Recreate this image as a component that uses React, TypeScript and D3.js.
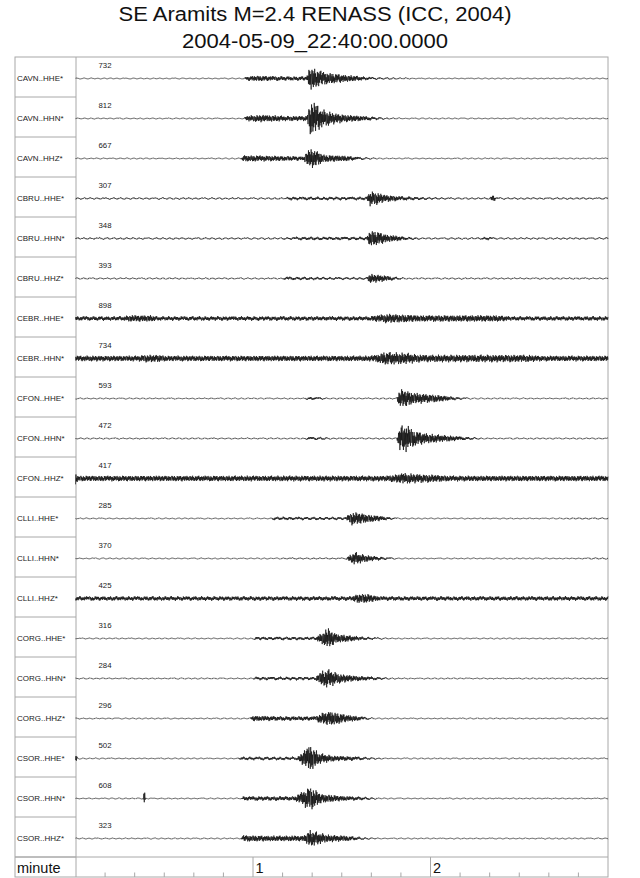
import React from "react";
import * as d3 from "d3";

const TITLE = "SE Aramits M=2.4 RENASS (ICC, 2004)";
const SUBTITLE = "2004-05-09_22:40:00.0000";

const CHANNELS = [
  "CAVN..HHE*", "CAVN..HHN*", "CAVN..HHZ*",
  "CBRU..HHE*", "CBRU..HHN*", "CBRU..HHZ*",
  "CEBR..HHE*", "CEBR..HHN*",
  "CFON..HHE*", "CFON..HHN*", "CFON..HHZ*",
  "CLLI..HHE*", "CLLI..HHN*", "CLLI..HHZ*",
  "CORG..HHE*", "CORG..HHN*", "CORG..HHZ*",
  "CSOR..HHE*", "CSOR..HHN*", "CSOR..HHZ*",
];

const PEAKS = [732, 812, 667, 307, 348, 393, 898, 734, 593, 472, 417, 285, 370, 425, 316, 284, 296, 502, 608, 323];

// envelope key points: [seconds after 22:40:00, half amplitude]
const ENV_CAVN_HHE = [[0,0.6],[56.8,0.6],[57.9,2.5],[60.9,3],[71,2.5],[78.2,2.5],[79.2,13],[81.2,10],[84.2,7],[88.3,5],[92.4,3.5],[96.4,2.5],[101.5,1.5],[111.7,1],[116.7,0.6],[180,0.6]];
const ENV_CAVN_HHN = [[0,0.7],[56.8,0.7],[57.9,3],[62.9,4],[71,2.8],[78.2,2.8],[79.2,16],[80.2,19],[83.2,10],[87.3,6],[91.4,4],[98.5,2.5],[104.5,1.2],[111.7,0.7],[180,0.7]];
const ENV_CAVN_HHZ = [[0,0.7],[55.8,0.7],[56.8,3.5],[66,3],[77.1,2.5],[79.2,11],[81.2,9],[84.2,4],[91.4,3],[97.4,1.5],[103.5,0.7],[180,0.7]];
const ENV_CBRU_HHE = [[0,1.2],[71,1.2],[72.1,2],[98.5,2],[99.5,8],[101.5,7],[104.5,4],[109.6,2.5],[119.8,1.5],[126.9,1.2],[140.1,1.2],[141.1,4],[142.1,1.5],[144.1,1.2],[180,1.2]];
const ENV_CBRU_HHN = [[0,1.2],[69,1.2],[76.1,2],[98.5,2],[99.5,9],[102.5,7],[105.6,4],[111.7,2],[116.7,1.2],[136,1.2],[139.1,2],[142.1,1.2],[180,1.2]];
const ENV_CBRU_HHZ = [[0,1],[70,1],[71,2],[91.4,1.6],[98.5,1.5],[99.5,5],[102.5,4],[107.6,2],[111.7,1],[180,1]];
const ENV_CEBR_HHE = [[0,2.5],[16.2,2.5],[18.3,3.5],[25.4,3.5],[27.4,2.5],[99.5,2.5],[101.5,3.5],[105.6,5],[109.6,4.5],[116.7,3.5],[142.1,3.5],[147.2,2.5],[180,2.5]];
const ENV_CEBR_HHN = [[0,3],[21.3,3],[23.3,4],[28.4,4],[30.5,3],[99.5,3],[101.5,4],[104.5,7],[111.7,6],[116.7,4],[152.3,4],[157.3,3],[180,3]];
const ENV_CFON_HHE = [[0,0.8],[77.1,0.8],[79.2,2],[83.2,1.5],[85.3,0.9],[108.6,0.9],[109.6,10],[111.7,9],[114.7,6],[121.8,4],[127.9,2],[134,0.8],[180,0.8]];
const ENV_CFON_HHN = [[0,0.9],[77.1,0.9],[79.2,2],[84.2,1.5],[86.3,1],[108.6,1],[109.6,13],[111.7,15],[114.7,8],[119.8,5],[126.9,3],[132,2],[138,0.9],[180,0.9]];
const ENV_CFON_HHZ = [[0,7],[0.8,3],[104.5,3],[107.6,4],[110.6,6],[114.7,5],[121.8,4],[126.9,3],[180,3]];
const ENV_CLLI_HHE = [[0,0.7],[66,0.7],[67,2],[91.4,1.8],[93.4,7],[96.4,6],[99.5,4],[105.6,2],[109.6,0.7],[162.4,0.7],[169.5,1],[180,1]];
const ENV_CLLI_HHN = [[0,0.7],[68,0.7],[71,1],[91.4,1],[94.4,7],[96.4,5],[99.5,3],[105.6,1.5],[109.6,0.7],[167.5,0.7],[172.6,1],[180,1]];
const ENV_CLLI_HHZ = [[0,2.5],[93.4,2.5],[95.4,5],[98.5,5],[101.5,3],[103.5,2.5],[180,2.5]];
const ENV_CORG_HHE = [[0,0.7],[59.9,0.7],[60.9,2],[81.2,2],[83.2,6],[85.3,11],[88.3,5],[93.4,3],[97.4,2],[104.5,1],[109.6,0.7],[180,0.7]];
const ENV_CORG_HHN = [[0,0.8],[59.9,0.8],[60.9,2],[81.2,2],[83.2,8],[85.3,10],[89.3,5],[94.4,3],[101.5,2],[106.6,1],[111.7,0.8],[180,0.8]];
const ENV_CORG_HHZ = [[0,0.7],[58.9,0.7],[59.9,3],[71,2.5],[81.2,2.5],[83.2,6],[86.3,8],[91.4,4],[97.4,2],[101.5,0.7],[180,0.7]];
const ENV_CSOR_HHE = [[0,5],[0.8,0.7],[54.8,0.7],[55.8,2],[75.1,2],[77.1,8],[79.2,15],[82.2,6],[87.3,3],[93.4,2.5],[99.5,1.5],[105.6,0.7],[180,0.7]];
const ENV_CSOR_HHN = [[0,0.7],[22.9,0.7],[23.3,10],[23.7,0.7],[55.8,0.7],[56.8,2.5],[74.1,2.5],[76.1,6],[79.2,13],[83.2,5],[89.3,3],[97.4,2],[103.5,0.7],[180,0.7]];
const ENV_CSOR_HHZ = [[0,0.7],[55.8,0.7],[56.8,3.5],[66,3],[77.1,3],[79.2,9],[85.3,4],[91.4,3],[97.4,1.5],[103.5,0.7],[180,0.7]];

const ENVELOPES = [
  ENV_CAVN_HHE, ENV_CAVN_HHN, ENV_CAVN_HHZ,
  ENV_CBRU_HHE, ENV_CBRU_HHN, ENV_CBRU_HHZ,
  ENV_CEBR_HHE, ENV_CEBR_HHN,
  ENV_CFON_HHE, ENV_CFON_HHN, ENV_CFON_HHZ,
  ENV_CLLI_HHE, ENV_CLLI_HHN, ENV_CLLI_HHZ,
  ENV_CORG_HHE, ENV_CORG_HHN, ENV_CORG_HHZ,
  ENV_CSOR_HHE, ENV_CSOR_HHN, ENV_CSOR_HHZ,
];

// fixed textures used to draw each trace inside its envelope (fast flicker + short sway)
const WIGGLE = [0.9, -0.6, 0.7, -1, 0.4, -0.8, 1, -0.5, 0.6, -0.9, 0.3, -0.7, 0.95, -0.4, 0.8, -1, 0.5, -0.65, 0.85, -0.3,
  1, -0.75, 0.45, -0.95, 0.7, -0.55, 0.9, -0.35, 0.6, -1, 0.8, -0.5, 0.35, -0.85, 1, -0.6, 0.75, -0.45, 0.55, -0.9, 0.65];
const SWAY = [0.3, 1, 0.4, -0.6, -1, -0.2, 0.7, 0.9, -0.1, -0.8, -0.5, 0.5, 1, 0.1, -0.9, -0.7, 0.4, 0.8, -0.3, -1,
  -0.4, 0.6, 0.9, -0.2, -0.7, 0.2, 1, 0.5, -0.5, -0.9, 0.1, 0.8, 0.3, -0.6, -0.8, 0.4, 0.7];

const DURATION = 180; // seconds shown
const MINUTE_TICKS = [60, 120];

const W = 640, H = 878;
const LEFT = 15, SEP = 76, RIGHT = 608, TOP = 57, ROW_H = 40, AXIS_H = 20;

export default function App() {
  const x = d3.scaleLinear().domain([0, DURATION]).range([SEP - 0.5, RIGHT]);
  const amp = d3.scaleLinear().domain([0, 20]).range([0, 20]);
  const mix = d3.scaleLinear().domain([0.6, 3]).range([0.25, 0.85]).clamp(true);
  const rows = d3.range(CHANNELS.length);
  const rowTop = (i: number) => TOP + i * ROW_H;
  const axisTop = TOP + CHANNELS.length * ROW_H;
  const bottom = axisTop + AXIS_H;

  const traces = rows.map((i) => {
    const env = ENVELOPES[i];
    const base = rowTop(i) + 21.5;
    const s = d3.scaleLinear().domain(env.map((p) => p[0])).range(env.map((p) => p[1])).clamp(true);
    const dt = 0.15;
    const per = 3;
    const n = Math.floor(DURATION / dt);
    const pts: [number, number][] = [];
    for (let k = 0; k <= n; k++) {
      const t = k * dt;
      const e = s(t);
      const w = WIGGLE[(k + i * 7) % WIGGLE.length];
      const j = Math.floor(k / per) + i * 5;
      const f = (k % per) / per;
      const sw = d3.interpolateNumber(SWAY[j % SWAY.length], SWAY[(j + 1) % SWAY.length])(f);
      const a = mix(e);
      pts.push([x(t), base - amp(e) * (a * w + (1 - a) * sw)]);
    }
    return d3.line()(pts) || "";
  });

  const minorTicks = d3.range(10, DURATION, 10).filter((t) => !MINUTE_TICKS.includes(t));
  const grey = "#a8a8a8";

  return (
    <svg width={W} height={H} style={{ position: "absolute", left: 0, top: 0, background: "#fff" }}
      fontFamily="'Liberation Sans', Arial, sans-serif">
      <rect x={0} y={0} width={W} height={H} fill="#fff" />
      <text x={118.5} y={20.5} fontSize={20} fill="#111" textLength={393} lengthAdjust="spacingAndGlyphs">{TITLE}</text>
      <text x={182} y={47.5} fontSize={20} fill="#111" textLength={266} lengthAdjust="spacingAndGlyphs">{SUBTITLE}</text>

      <rect x={LEFT} y={TOP} width={RIGHT - LEFT} height={bottom - TOP} fill="none" stroke={grey} strokeWidth={1} />
      <line x1={SEP} x2={SEP} y1={TOP} y2={bottom} stroke={grey} />
      {rows.map((i) => (
        <line key={"s" + i} x1={LEFT} x2={SEP} y1={rowTop(i + 1)} y2={rowTop(i + 1)} stroke={grey} />
      ))}
      <line x1={LEFT} x2={RIGHT} y1={axisTop} y2={axisTop} stroke={grey} />

      {rows.map((i) => (
        <g key={"r" + i}>
          <text x={17} y={rowTop(i) + 24.3} fontSize={8} fill="#222">{CHANNELS[i]}</text>
          <text x={98.5} y={rowTop(i) + 10.6} fontSize={7.8} fill="#222">{PEAKS[i]}</text>
          <path d={traces[i]} fill="none" stroke="#000" strokeWidth={0.65} />
        </g>
      ))}

      <text x={17} y={bottom - 4} fontSize={14.5} fill="#111">minute</text>
      {minorTicks.map((t) => (
        <line key={"m" + t} x1={x(t)} x2={x(t)} y1={bottom - 4.5} y2={bottom} stroke={grey} />
      ))}
      {MINUTE_TICKS.map((t) => (
        <g key={"M" + t}>
          <line x1={x(t)} x2={x(t)} y1={axisTop} y2={bottom} stroke={grey} />
          <text x={x(t) + 2.5} y={bottom - 4} fontSize={14.5} fill="#111">{t / 60}</text>
        </g>
      ))}
    </svg>
  );
}
